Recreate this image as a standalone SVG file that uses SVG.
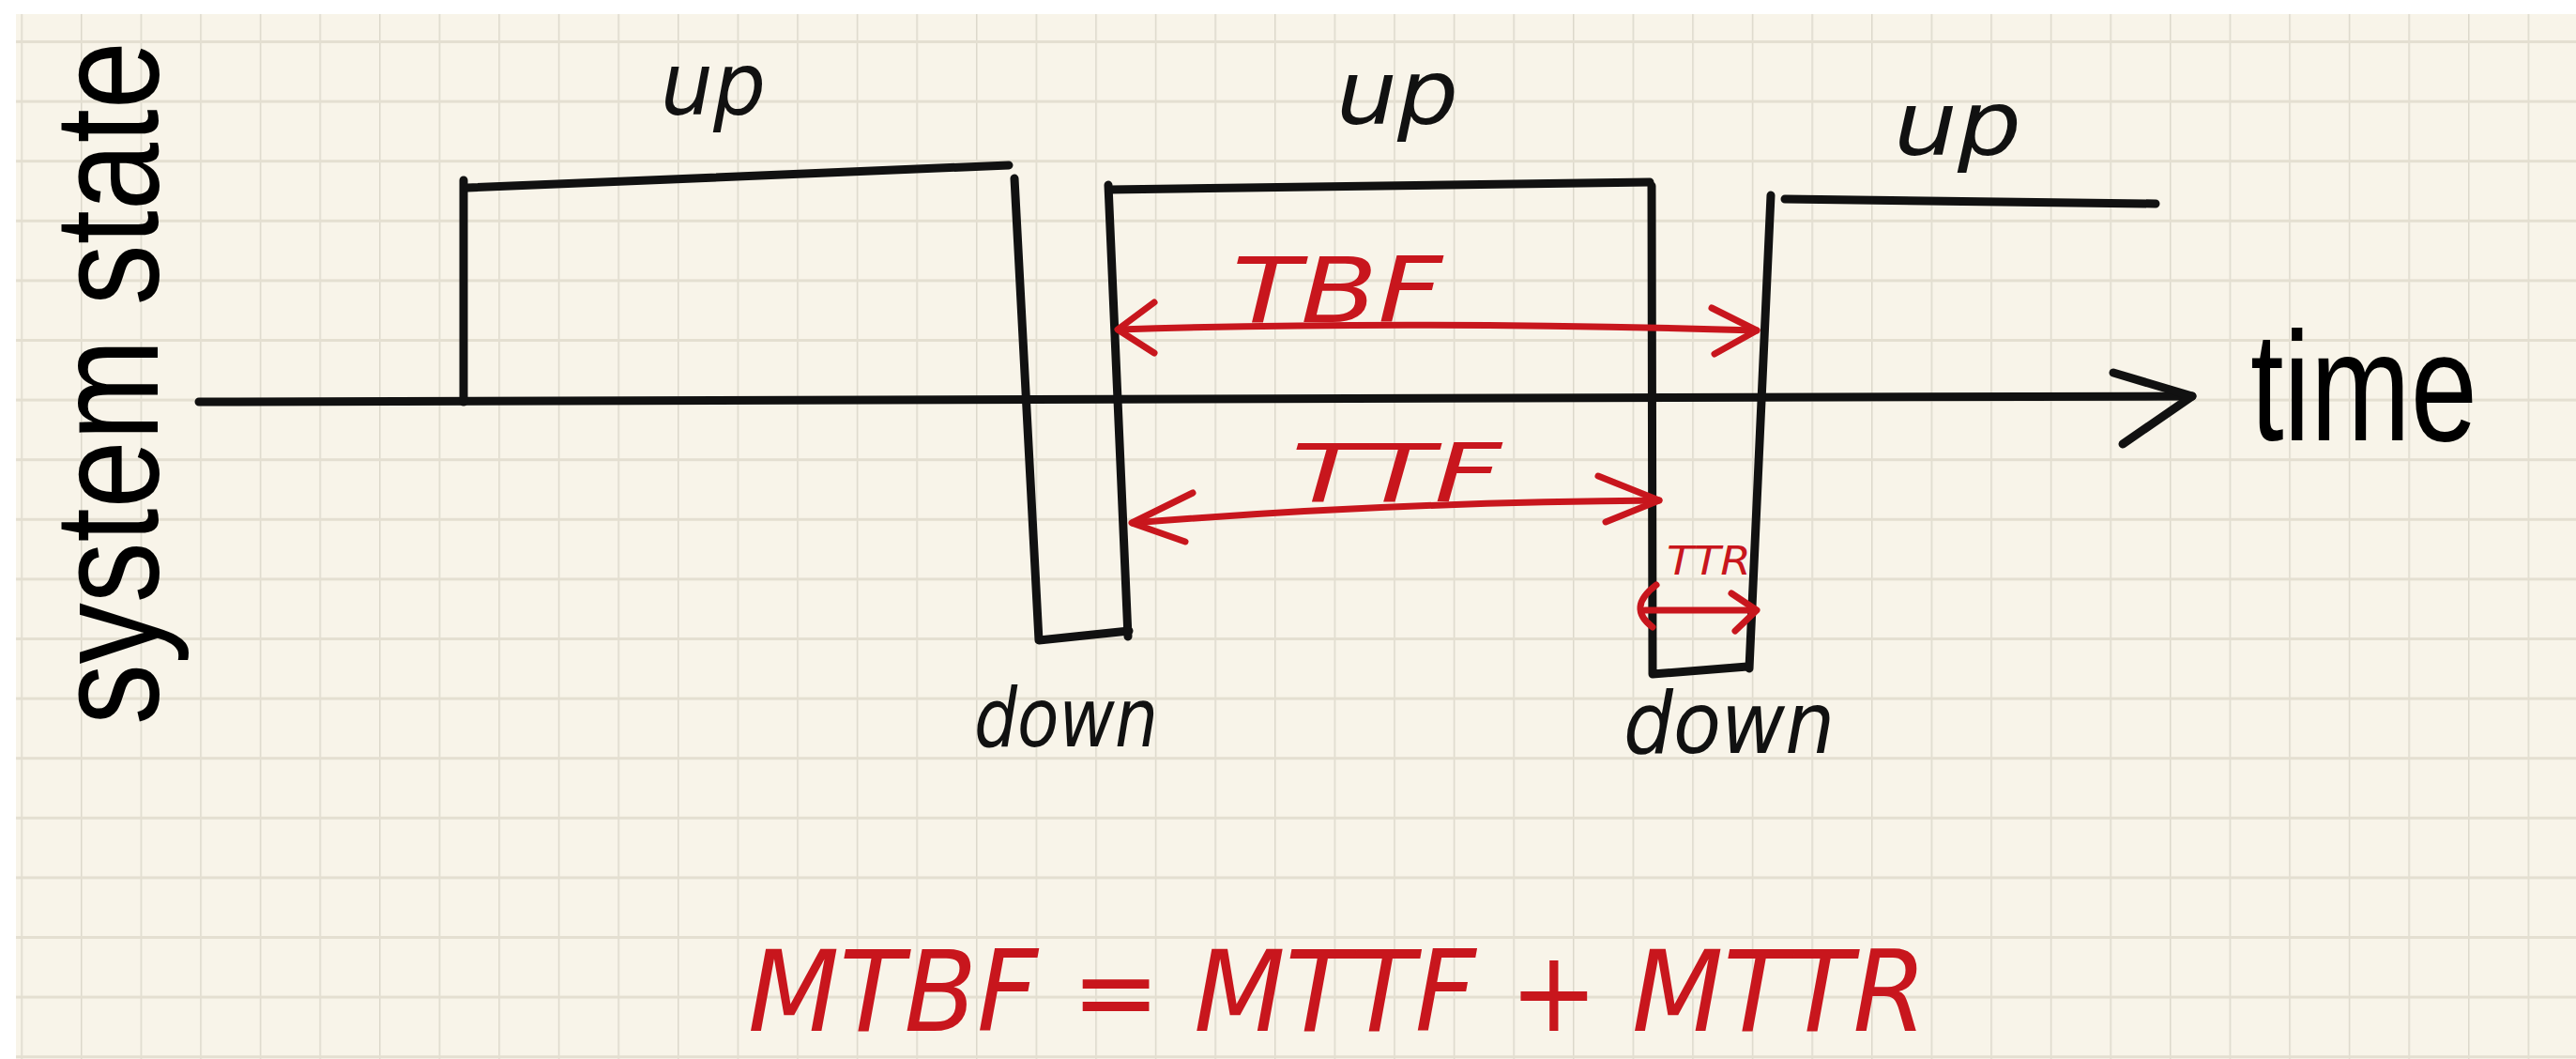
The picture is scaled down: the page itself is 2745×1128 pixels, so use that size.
<svg xmlns="http://www.w3.org/2000/svg" width="2745" height="1128" viewBox="0 0 2745 1128">
<style>
.ink{fill:none;stroke:#111;stroke-width:9;stroke-linecap:round;stroke-linejoin:round}
.red{fill:none;stroke:#c8161d;stroke-width:7;stroke-linecap:round;stroke-linejoin:round}
.print{font-family:"Liberation Sans",Arial,sans-serif;fill:#000}
.hand{font-family:"DejaVu Sans","Liberation Sans",sans-serif;font-style:italic;fill:#111}
.handred{font-family:"DejaVu Sans","Liberation Sans",sans-serif;font-style:italic;fill:#c8161d}
</style>
<defs>
<pattern id="grid" x="86" y="43" width="63.6" height="63.6" patternUnits="userSpaceOnUse">
<line x1="0.75" y1="0" x2="0.75" y2="63.6" stroke="#dcd8cb" stroke-width="1.5"/>
<line x1="0" y1="1.5" x2="63.6" y2="1.5" stroke="#e4dfd1" stroke-width="3"/>
</pattern>
</defs>
<rect x="0" y="0" width="2745" height="1128" fill="#ffffff"/>
<rect x="17" y="15" width="2728" height="1113" fill="#f8f4e9"/>
<rect x="17" y="15" width="2728" height="1113" fill="url(#grid)"/>

<g id="y-label">
<text class="print" transform="translate(168,772) rotate(-90)" font-size="158" textLength="728" lengthAdjust="spacingAndGlyphs">system state</text>
</g>
<g id="x-label">
<text class="print" x="2398" y="469" font-size="166" textLength="242" lengthAdjust="spacingAndGlyphs">time</text>
</g>

<g id="axis">
<path class="ink" d="M212,428 L2336,422"/>
<path class="ink" d="M2252,397 L2336,422 L2262,473"/>
</g>

<g id="signal">
<path class="ink" d="M494,428 L494,192"/>
<path class="ink" d="M498,200 L1075,176"/>
<path class="ink" d="M1081,190 L1107,682 L1203,672"/>
<path class="ink" d="M1202,678 L1181,197"/>
<path class="ink" d="M1182,202 L1758,194"/>
<path class="ink" d="M1760,198 L1761,718 L1862,710"/>
<path class="ink" d="M1864,712 L1887,208"/>
<path class="ink" d="M1902,212 L2297,217"/>
</g>

<g id="state-labels">
<text class="hand" x="704" y="122" font-size="92" textLength="112" lengthAdjust="spacingAndGlyphs">up</text>
<text class="hand" x="1424" y="132" font-size="95" textLength="130" lengthAdjust="spacingAndGlyphs">up</text>
<text class="hand" x="2018" y="165" font-size="95" textLength="136" lengthAdjust="spacingAndGlyphs">up</text>
<text class="hand" x="1038" y="795" font-size="88" textLength="196" lengthAdjust="spacingAndGlyphs">down</text>
<text class="hand" x="1730" y="802" font-size="90" textLength="225" lengthAdjust="spacingAndGlyphs">down</text>
</g>

<g id="connectors">
<path class="red" d="M1192,351 Q1500,341 1872,352"/>
<path class="red" d="M1230,322 L1191,351 L1230,376"/>
<path class="red" d="M1824,328 L1872,352 L1827,377"/>
<path class="red" d="M1207,557 Q1480,535 1768,533"/>
<path class="red" d="M1271,525 L1206,557 L1263,577"/>
<path class="red" d="M1703,507 L1768,533 L1711,556"/>
<path class="red" d="M1753,650 L1866,650"/>
<path class="red" d="M1845,632 L1872,650 L1849,672"/>
<path class="red" d="M1765,623 Q1733,647 1761,668"/>
</g>

<g id="interval-labels">
<text class="handred" x="1313" y="343" font-size="97" textLength="224" lengthAdjust="spacingAndGlyphs">TBF</text>
<text class="handred" x="1376" y="534" font-size="85" textLength="224" lengthAdjust="spacingAndGlyphs">TTF</text>
<text class="handred" x="1776" y="612" font-size="42" textLength="90" lengthAdjust="spacingAndGlyphs">TTR</text>
</g>

<g id="formula">
<text class="handred" x="797" y="1098" font-size="120" textLength="1256" lengthAdjust="spacingAndGlyphs">MTBF = MTTF + MTTR</text>
</g>
</svg>
